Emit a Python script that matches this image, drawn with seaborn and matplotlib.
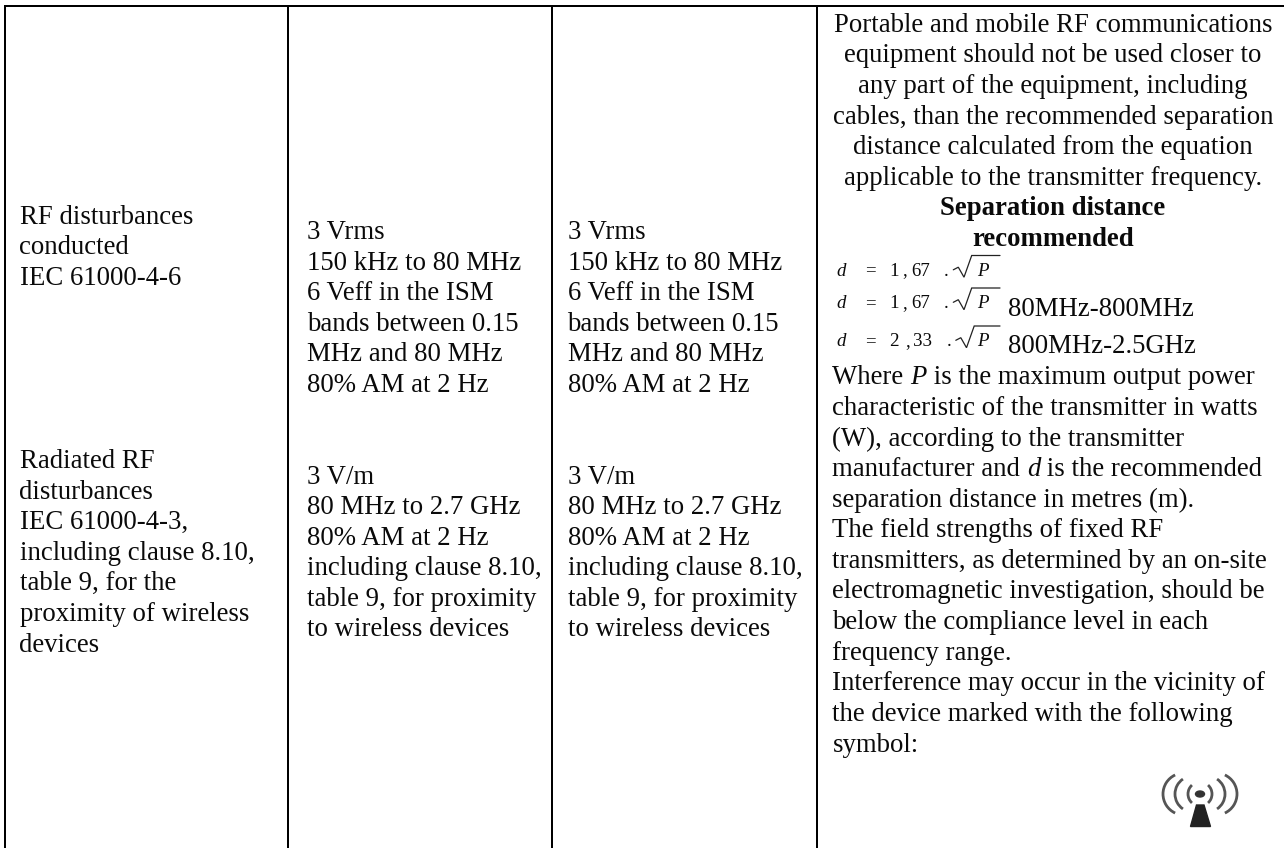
import matplotlib
matplotlib.use("Agg")
import matplotlib.pyplot as plt
import seaborn as sns
from matplotlib.patches import Polygon, Arc, Ellipse

sns.set_theme(style="white")
plt.rcParams['font.family'] = ['Liberation Serif', 'DejaVu Serif']

W, H = 1284, 848
FS = 19.3
LINE = 30.6

col_x = [4.7, 288, 552, 817]
top_y = 6

col1_top = ["RF disturbances", "conducted", "IEC 61000-4-6"]
col1_bottom = ["Radiated RF", "disturbances", "IEC 61000-4-3,", "including clause 8.10,",
               "table 9, for the", "proximity of wireless", "devices"]
col2_top = ["3 Vrms", "150 kHz to 80 MHz", "6 Veff in the ISM", "bands between 0.15",
            "MHz and 80 MHz", "80% AM at 2 Hz"]
col2_bottom = ["3 V/m", "80 MHz to 2.7 GHz", "80% AM at 2 Hz", "including clause 8.10,",
               "table 9, for proximity", "to wireless devices"]
col4_center = ["Portable and mobile RF communications", "equipment should not be used closer to",
               "any part of the equipment, including", "cables, than the recommended separation",
               "distance calculated from the equation", "applicable to the transmitter frequency."]
col4_bold = ["Separation distance", "recommended"]
coef_int = ["1", "1", "2"]
coef_dec = ["67", "67", "33"]
formula_base = [275.5, 308, 346]
formula_shift = [0, 0, 2.5]
bands = ["", "80MHz-800MHz", "800MHz-2.5GHz"]
bands_base = [0, 316, 353]
col4_para = [[("Where ", 0), ("P", 1), (" is the maximum output power", 0)],
             [("characteristic of the transmitter in watts", 0)],
             [("(W), according to the transmitter", 0)],
             [("manufacturer and ", 0), ("d", 1), (" is the recommended", 0)],
             [("separation distance in metres (m).", 0)],
             [("The field strengths of fixed RF", 0)],
             [("transmitters, as determined by an on-site", 0)],
             [("electromagnetic investigation, should be", 0)],
             [("below the compliance level in each", 0)],
             [("frequency range.", 0)],
             [("Interference may occur in the vicinity of", 0)],
             [("the device marked with the following", 0)],
             [("symbol:", 0)]]

fig = plt.figure(figsize=(W / 100, H / 100), dpi=100, facecolor="white")
ax = fig.add_axes([0, 0, 1, 1])
ax.set_xlim(0, W)
ax.set_ylim(H, 0)
ax.axis("off")

LW = 2 * 72 / 100
for x in col_x:
    ax.plot([x, x], [top_y - 1, H], color="black", lw=LW, solid_capstyle="butt")
ax.plot([col_x[0] - 1, W], [top_y, top_y], color="black", lw=LW, solid_capstyle="butt")

def put(x, y, s, size=FS, **kw):
    return ax.text(x, y, s, fontsize=size, color="#0a0a0a", va="baseline", **kw)

def block(x, y0, lines, **kw):
    for i, s in enumerate(lines):
        put(x, y0 + i * LINE, s, **kw)

block(19.5, 223.5, col1_top)
block(19.5, 468, col1_bottom)
for x in (307, 567.5):
    block(x, 239, col2_top)
    block(x, 483.5, col2_bottom)
block(1053, 31.7, col4_center, ha="center")
block(1053, 215.3, col4_bold, ha="center", fontweight="bold")

# formulas: d = k . sqrt(P)
FF = 13.6
for a, b, y, dx, band, by in zip(coef_int, coef_dec, formula_base, formula_shift, bands, bands_base):
    put(836.5, y, "d", size=FF, style="italic")
    put(865, y, "=", size=FF)
    put(889.5, y, a, size=FF)
    put(902 + dx * 1.5, y, ",", size=FF)
    put(911 + dx, y, b, size=FF)
    put(944 + dx, y, ".", size=FF)
    rx = [953.3 + dx, 958.3 + dx, 964 + dx, 971.7 + dx, 1000]
    ry = [y - 5.7, y - 8.3, y + 1.7, y - 20, y - 20]
    ax.plot(rx, ry, color="#222222", lw=0.9, solid_joinstyle="miter")
    put(976.7, y, "P", size=FF, style="italic")
    if band:
        put(1008, by, band)

# paragraph with italic runs
renderer = fig.canvas.get_renderer()
def width(s, style):
    a = ax.text(0, 0, s + "|", fontsize=FS, style=style)
    b = ax.text(0, 0, "|", fontsize=FS, style=style)
    w = a.get_window_extent(renderer).width - b.get_window_extent(renderer).width
    a.remove(); b.remove()
    return w

for i, runs in enumerate(col4_para):
    x = 832.5
    y = 384.3 + i * LINE
    for s, it in runs:
        style = "italic" if it else "normal"
        put(x, y, s, style=style)
        x += width(s, style)

# non-ionizing radiation symbol
cx, cy = 1200, 794
symbol_arcs = [(12, 0, 48), (25, 7, 56), (37, 16, 65)]
for r, off, half in symbol_arcs:
    R = r - off
    for side in (-1, 1):
        t = 180 if side < 0 else 0
        ax.add_patch(Arc((cx + side * off, cy), 2 * R, 2 * R, theta1=t - half, theta2=t + half,
                         color="#555555", lw=2.0))
ax.add_patch(Ellipse((cx, cy), 9, 6, color="#333333"))
ax.add_patch(Polygon([[1196.5, 805], [1204, 805], [1210.5, 826.5], [1190.5, 826.5]],
                     closed=True, color="#222222"))

fig.savefig("out.png", dpi=100, facecolor="white")
